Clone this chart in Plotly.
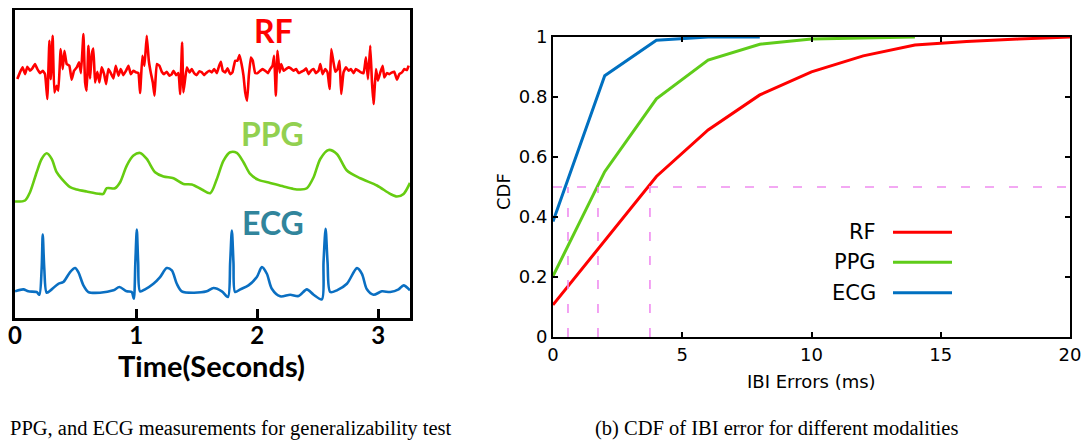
import plotly.graph_objects as go

# ---- left panel: waveforms (time in s, amplitude in arbitrary units) ----
rf_t = [0.019, 0.041, 0.063, 0.083, 0.102, 0.124, 0.143, 0.165, 0.185, 0.207, 0.229, 0.248,
        0.267, 0.284, 0.295, 0.311, 0.325, 0.344, 0.358, 0.377, 0.394, 0.408, 0.427, 0.449,
        0.468, 0.488, 0.510, 0.529, 0.545, 0.565, 0.579, 0.592, 0.606, 0.620, 0.634, 0.647,
        0.661, 0.680, 0.697, 0.716, 0.736, 0.752, 0.771, 0.791, 0.813, 0.832, 0.854, 0.873,
        0.895, 0.917, 0.937, 0.956, 0.978, 1.000, 1.019, 1.033, 1.052, 1.069, 1.088, 1.105,
        1.121, 1.138, 1.152, 1.171, 1.193, 1.212, 1.231, 1.253, 1.275, 1.295, 1.309, 1.331,
        1.350, 1.364, 1.380, 1.391, 1.405, 1.419, 1.441, 1.460, 1.479, 1.501, 1.521, 1.543,
        1.562, 1.584, 1.606, 1.625, 1.645, 1.667, 1.686, 1.700, 1.716, 1.736, 1.755, 1.777,
        1.796, 1.818, 1.837, 1.854, 1.871, 1.887, 1.901, 1.917, 1.931, 1.948, 1.964, 1.983,
        2.003, 2.025, 2.044, 2.066, 2.088, 2.107, 2.127, 2.140, 2.154, 2.168, 2.185, 2.198,
        2.218, 2.237, 2.259, 2.278, 2.300, 2.322, 2.342, 2.364, 2.383, 2.405, 2.424, 2.444,
        2.466, 2.485, 2.507, 2.521, 2.540, 2.562, 2.581, 2.598, 2.612, 2.628, 2.645, 2.664,
        2.680, 2.694, 2.713, 2.733, 2.755, 2.774, 2.796, 2.815, 2.837, 2.857, 2.879, 2.898,
        2.915, 2.934, 2.948, 2.961, 2.981, 2.997, 3.017, 3.036, 3.050, 3.072, 3.091, 3.113,
        3.132, 3.154, 3.174, 3.196, 3.215, 3.237, 3.251]
rf_amp = [-0.67, 0.0, 0.5, -0.17, 0.57, 0.17, 0.4, 0.83, 0.33, -0.07, 0.17, -0.17,
          -2.67, 3.17, -0.67, 3.67, -2.0, -1.33, -1.83, 2.33, 0.33, 2.17, 0.83, 0.67,
          -0.73, 0.17, 0.5, 1.0, -0.07, 3.83, -1.0, -1.83, 2.67, -0.6, 1.83, 2.4,
          -1.0, 0.07, -1.0, 0.5, -0.17, -1.17, 0.33, -0.07, -0.6, 0.67, -0.33, 0.33,
          -0.27, 0.17, 0.67, -0.17, 0.17, 0.0, -0.07, -2.07, 1.67, 0.67, 3.67, 1.17,
          0.0, -1.0, -2.33, 0.83, 0.67, 0.07, -0.17, 0.07, -0.33, -0.17, 0.17, -0.27,
          -0.07, -2.17, 3.0, -2.0, -0.67, 0.5, 0.0, 0.33, -0.07, -0.27, 0.1, 0.0,
          -0.27, 0.0, 0.17, 0.0, 0.33, -0.07, 0.67, 1.07, 0.17, 0.0, 0.4, -0.17,
          0.0, 1.17, 1.17, 1.73, 0.83, -0.33, -2.0, -2.83, -0.33, 1.5, 1.17, -0.07,
          -0.07, 0.17, 0.33, 0.17, -0.07, 0.33, 0.67, 1.67, -2.33, 2.17, 0.0, 0.83,
          0.17, 0.33, 0.5, 0.4, 0.17, 0.33, -0.07, 0.07, 0.17, 0.4, -0.17, 0.17,
          0.33, -0.07, 0.17, 0.83, -0.17, 0.33, 0.0, -1.67, 2.33, 1.17, 0.07, 0.33,
          1.17, -2.17, 0.0, 0.5, 0.17, 0.33, -0.07, 0.33, 0.17, 0.0, -0.07, 1.5,
          -0.67, 2.67, -1.0, -3.17, 0.33, -0.83, 0.0, 0.67, -0.5, -0.07, -0.17, 0.0,
          0.07, -0.73, -0.17, 0.0, 0.33, 0.23, 0.67]

ppg_t = [0.0, 0.083, 0.124, 0.179, 0.220, 0.262, 0.303, 0.344, 0.386, 0.455, 0.510, 0.592,
         0.702, 0.730, 0.758, 0.826, 0.868, 0.923, 0.978, 1.033, 1.088, 1.157, 1.226, 1.309,
         1.391, 1.460, 1.543, 1.612, 1.667, 1.722, 1.777, 1.832, 1.887, 1.942, 2.011, 2.107,
         2.218, 2.300, 2.355, 2.410, 2.466, 2.521, 2.590, 2.658, 2.741, 2.851, 2.989, 3.099,
         3.154, 3.209, 3.262]
ppg_amp = [0.07, 0.17, 1.0, 3.0, 4.33, 4.9, 4.33, 3.0, 2.33, 1.5, 1.27, 1.07,
           0.83, 0.83, 1.4, 1.4, 2.0, 3.67, 4.67, 4.93, 4.33, 3.0, 2.57, 2.4,
           1.83, 1.77, 1.27, 0.9, 2.33, 4.17, 5.0, 4.93, 4.0, 2.83, 2.23, 1.93,
           1.57, 1.33, 1.27, 1.4, 2.5, 4.33, 5.23, 4.83, 3.17, 2.4, 1.67, 0.83,
           0.57, 0.83, 1.93]

ecg_t = [0.0, 0.069, 0.110, 0.179, 0.201, 0.220, 0.229, 0.242, 0.262, 0.303, 0.358, 0.399,
         0.455, 0.496, 0.523, 0.565, 0.606, 0.702, 0.813, 0.862, 0.923, 0.964, 0.981, 0.994,
         1.006, 1.017, 1.033, 1.074, 1.143, 1.198, 1.253, 1.295, 1.336, 1.377, 1.474, 1.584,
         1.639, 1.708, 1.758, 1.777, 1.791, 1.804, 1.818, 1.860, 1.928, 1.997, 2.039, 2.080,
         2.121, 2.190, 2.273, 2.342, 2.410, 2.466, 2.534, 2.548, 2.565, 2.581, 2.603, 2.658,
         2.741, 2.824, 2.865, 2.906, 2.961, 3.030, 3.099, 3.168, 3.209, 3.262]
ecg_amp = [0.07, 0.27, 0.07, 0.0, -0.27, 2.33, 5.77, 2.33, -0.07, 0.27, 0.83, 1.0,
           2.0, 2.4, 2.0, 0.67, 0.0, -0.07, 0.17, 0.5, 0.07, 0.0, -0.67, 3.0,
           6.27, 3.0, 0.07, 0.27, 0.83, 1.5, 2.4, 2.17, 0.83, 0.07, -0.07, 0.07,
           0.4, 0.07, -0.5, 3.0, 6.17, 3.0, 0.0, 0.27, 0.67, 1.5, 2.5, 1.83,
           0.33, -0.43, -0.27, -0.4, 0.27, -0.27, -0.73, 3.0, 6.33, 3.0, 0.0, 0.17,
           0.83, 2.4, 1.83, 0.27, -0.27, 0.07, 0.0, 0.27, 0.67, 0.17]

# ---- right panel: CDF of IBI error ----
rf_err = [0, 4, 6, 8, 10, 12, 14, 16, 18, 20]
rf_cdf = [0.107, 0.535, 0.69, 0.807, 0.884, 0.937, 0.973, 0.985, 0.993, 1.0]
ppg_err = [0, 2, 4, 6, 8, 10, 12, 14]
ppg_cdf = [0.203, 0.551, 0.794, 0.923, 0.976, 0.993, 0.997, 1.0]
ecg_err = [0, 2, 4, 6, 8]
ecg_cdf = [0.385, 0.871, 0.989, 1.0, 1.0]
median_err = [0.58, 1.74, 3.75]

RED, GREEN, BLUE = "#ff0000", "#5fcc1a", "#0070c0"
VIOLET = "#f08cf0"

# the page body keeps an 8px margin, so the figure fills the rest of the window
OFF = 8
W, H = 1089 - OFF, 441 - OFF


def px(x):
    return (x - OFF) / W


def py(y):
    return 1 - (y - OFF) / H


fig = go.Figure()

# stacked waveforms (vertical offsets only for layout)
offsets = {"RF": 24.6, "PPG": 11.6, "ECG": 2.6}
for name, t, a, col in [("RF", rf_t, rf_amp, RED), ("PPG", ppg_t, ppg_amp, "#66cc11"),
                        ("ECG", ecg_t, ecg_amp, "#0a6fc2")]:
    fig.add_trace(go.Scatter(x=t, y=[v + offsets[name] for v in a], mode="lines",
                             line=dict(color=col, width=2.6, shape="spline",
                                       smoothing=0.3 if name == "RF" else 0.8),
                             xaxis="x", yaxis="y", showlegend=False))

# CDF curves
for name, xs, ys, col in [("RF", rf_err, rf_cdf, RED), ("PPG", ppg_err, ppg_cdf, GREEN),
                          ("ECG", ecg_err, ecg_cdf, BLUE)]:
    fig.add_trace(go.Scatter(x=xs, y=ys, mode="lines", line=dict(color=col, width=3),
                             xaxis="x2", yaxis="y2", showlegend=False))

# median guide lines
fig.add_trace(go.Scatter(x=[0, 20], y=[0.5, 0.5], mode="lines",
                         line=dict(color=VIOLET, width=1.6, dash="9px,15px"),
                         xaxis="x2", yaxis="y2", showlegend=False))
for m in median_err:
    fig.add_trace(go.Scatter(x=[m, m], y=[0, 0.5], mode="lines",
                             line=dict(color=VIOLET, width=1.6, dash="9px,15px"),
                             xaxis="x2", yaxis="y2", showlegend=False))

bold = dict(family="Lato", size=24, color="black", weight="bold")
tick_font = dict(family="DejaVu Sans", size=18, color="black")

fig.update_layout(
    width=W, height=H, margin=dict(l=0, r=0, t=0, b=0, autoexpand=False),
    paper_bgcolor="white", plot_bgcolor="white",
    xaxis=dict(domain=[px(15), px(410)], range=[0, 3.262], showline=True, mirror=True,
               linecolor="black", linewidth=3, ticks="inside", ticklen=9, tickwidth=3,
               tickcolor="black", tickvals=[0, 1, 2, 3], tickfont=bold, automargin=False,
               ticklabelstandoff=-6, showgrid=False, zeroline=False),
    yaxis=dict(domain=[py(318), py(9.5)], range=[0, 30.9], showline=True, mirror=True,
               linecolor="black", linewidth=3, ticks="", showticklabels=False, automargin=False,
               showgrid=False, zeroline=False),
    xaxis2=dict(domain=[px(553), px(1070)], range=[0, 20], anchor="y2", showline=True,
                mirror="ticks", linecolor="black", linewidth=2, ticks="inside", ticklen=5,
                tickwidth=1.5, tickcolor="black", tickvals=[0, 5, 10, 15, 20], automargin=False,
                tickfont=tick_font, showgrid=False, zeroline=False),
    yaxis2=dict(domain=[py(337), py(37)], range=[0, 1], anchor="x2", showline=True,
                mirror="ticks", linecolor="black", linewidth=2, ticks="inside", ticklen=5,
                tickwidth=1.5, tickcolor="black", tickvals=[0, 0.2, 0.4, 0.6, 0.8, 1],
                ticktext=["0", "0.2", "0.4", "0.6", "0.8", "1"], automargin=False,
                tickfont=tick_font, showgrid=False, zeroline=False),
)

ann = []
label_font = dict(family="Lato", size=32, weight="bold")
for txt, cx, cy, col in [("RF", 273, 30.5, RED), ("PPG", 272.5, 133.5, "#92d050"),
                         ("ECG", 273, 222.5, "#31859c")]:
    ann.append(dict(text=txt, x=px(cx), y=py(cy), xref="paper", yref="paper",
                    xanchor="center", yanchor="middle", showarrow=False,
                    font=dict(label_font, color=col)))
ann.append(dict(text="Time(Seconds)", x=px(211), y=py(365), xref="paper", yref="paper",
                xanchor="center", yanchor="middle", showarrow=False,
                font=dict(family="Lato", size=29, color="black", weight="bold")))
ann.append(dict(text="CDF", x=px(503), y=py(192), xref="paper", yref="paper",
                xanchor="center", yanchor="middle", showarrow=False, textangle=-90,
                font=dict(family="DejaVu Sans", size=18, color="black")))
ann.append(dict(text="IBI Errors (ms)", x=px(811.5), y=py(381.7), xref="paper", yref="paper",
                xanchor="center", yanchor="middle", showarrow=False,
                font=dict(family="DejaVu Sans", size=18, color="black")))

# legend: text on the left, line sample on the right
shapes = []
for txt, cy, col in [("RF", 232.3, RED), ("PPG", 262.3, GREEN), ("ECG", 292.7, BLUE)]:
    ann.append(dict(text=txt, x=px(878), y=py(cy), xref="paper", yref="paper",
                    xanchor="right", yanchor="middle", showarrow=False,
                    font=dict(family="DejaVu Sans", size=21, color="black")))
    shapes.append(dict(type="line", xref="paper", yref="paper", x0=px(893), x1=px(952),
                       y0=py(cy), y1=py(cy), line=dict(color=col, width=3)))

cap_font = dict(family="Liberation Serif", size=20.5, color="black")
ann.append(dict(text="PPG, and ECG measurements for generalizability test", x=0, y=py(428),
                xref="paper", yref="paper", xanchor="left", yanchor="middle",
                showarrow=False, font=cap_font))
ann.append(dict(text="(b) CDF of IBI error for different modalities", x=px(776.5), y=py(428),
                xref="paper", yref="paper", xanchor="center", yanchor="middle",
                showarrow=False, font=cap_font))

fig.update_layout(annotations=ann, shapes=shapes)
fig.write_html("out.html")
